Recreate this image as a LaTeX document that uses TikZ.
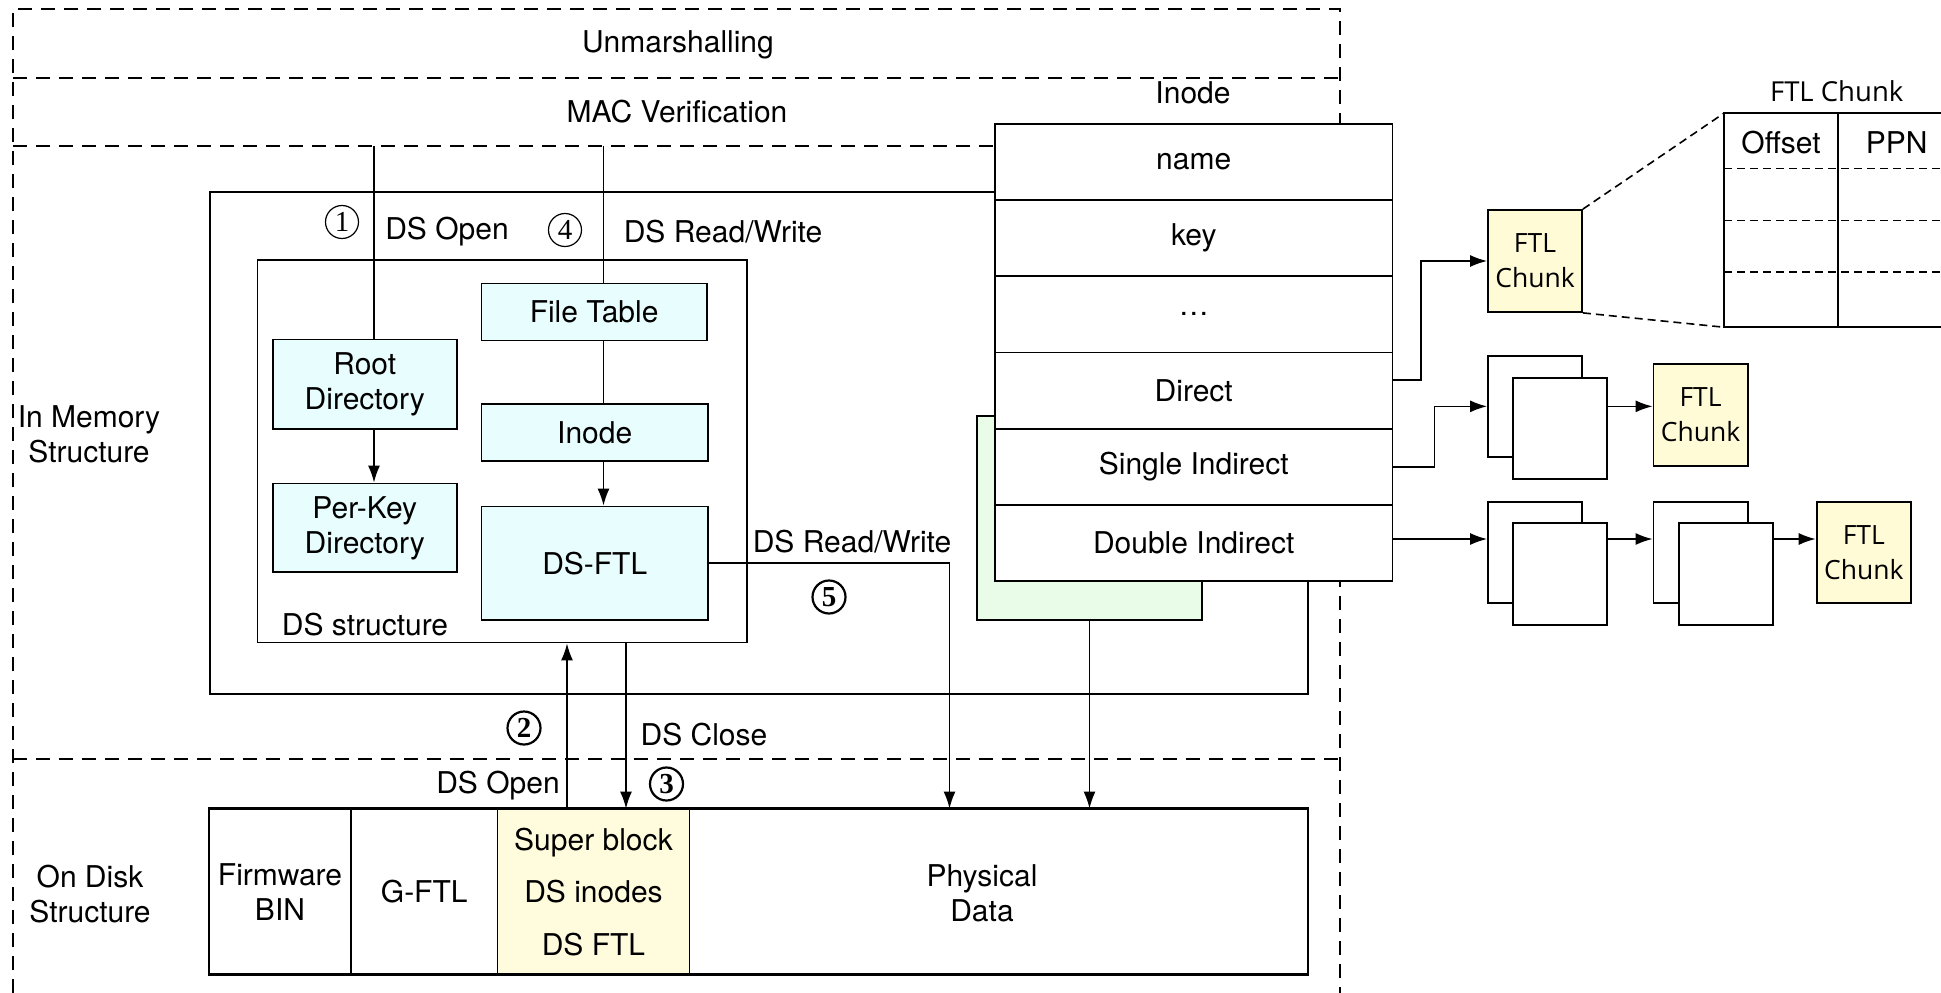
\documentclass[tikz,border=0pt]{standalone}
\usepackage[no-math]{fontspec}
\setmainfont{TeX Gyre Heros}
\newfontfamily\chunkfont{Open Sans}
\newfontfamily\numfont{Liberation Serif}
\usetikzlibrary{arrows.meta,calc}
\definecolor{dscyan}{RGB}{232,253,253}
\definecolor{inodegreen}{RGB}{232,252,232}
\definecolor{diskyellow}{RGB}{255,252,221}
\definecolor{chunkyellow}{RGB}{255,251,215}
\newcommand\mainsz{\fontsize{30}{35}\selectfont}

\begin{document}
\begin{tikzpicture}[x=1pt,y=-1pt,
  every node/.style={font=\mainsz,align=center,inner sep=0pt},
  sz/.style 2 args={minimum width=#1pt,minimum height=#2pt},
  box/.style={draw,line width=1.8pt},
  dsbox/.style={box,fill=dscyan},
  chunk/.style={box,fill=chunkyellow,font=\chunkfont\fontsize{26.5}{35}\selectfont},
  stk/.style={box,fill=white},
  frame/.style={line width=1.6pt,dash pattern=on 14pt off 9pt},
  smalldash/.style={line width=1.6pt,dash pattern=on 8pt off 5pt},
  wire/.style={line width=1.6pt},
  arrow/.style={wire,-{Latex[length=17pt,width=12pt]}},
  circnum/.style={circle,draw,line width=1.2pt,minimum size=33pt,
    font=\numfont\fontsize{29}{29}\selectfont},
  circnumb/.style={circnum,line width=2.2pt,
    font=\numfont\bfseries\fontsize{29}{29}\selectfont}]
\useasboundingbox (0,0) rectangle (1941,993);

% layered dashed frame
\draw[frame] (13,993) -- (13,9) -- (1340,9) -- (1340,993);
\draw[frame] (13,78) -- (1340,78);
\draw[frame] (13,146) -- (1340,146);
\draw[frame] (13,759) -- (1340,759);
\node (unm) at (678,45) {Unmarshalling};
\node (mac) at (677,112) {MAC Verification};
\node (inmem) at (89,434) {In Memory\\Structure};
\node (ondisk) at (90,894) {On Disk\\Structure};

% in-memory structure
\node[box,sz={1098}{502}] (mem) at (759,443) {};
\node[box,fill=inodegreen,sz={225}{204}] (green) at (1089.5,518) {};

% inode table
\node (inodelbl) at (1193,93) {Inode};
\node[stk,sz={397.5}{76.17}] (rname) at (1193.75,162.1) {name};
\node[stk,sz={397.5}{76.17}] (rkey) at (1193.75,238.3) {key};
\node[stk,sz={397.5}{76.17}] (rdots) at (1193.75,314.4) {…};
\node[stk,sz={397.5}{76.17}] (rdirect) at (1193.75,390.6) {Direct};
\node[stk,sz={397.5}{76.17}] (rsingle) at (1193.75,466.7) {Single Indirect};
\node[stk,sz={397.5}{76.17}] (rdouble) at (1193.75,542.9) {Double Indirect};

% DS structure
\node[box,sz={489.5}{382.5}] (ds) at (502.25,451.25) {};
\node (dslbl) at (365,625) {DS structure};
\node[dsbox,sz={183.6}{89.5}] (root) at (364.8,384.25) {Root\\Directory};
\node[dsbox,sz={183.6}{88.8}] (perkey) at (364.8,527.9) {Per-Key\\Directory};
\node[dsbox,sz={225.2}{57}] (ftab) at (594.1,311.9) {File Table};
\node[dsbox,sz={226.5}{57}] (inode) at (594.75,432.5) {Inode};
\node[dsbox,sz={226.5}{113.5}] (dsftl) at (594.75,563.25) {DS-FTL};

\coordinate (tap1) at (374,146);
\coordinate (tap4) at (603.5,146);
\draw[wire] (tap1) -- (tap1 |- root.north);
\draw[arrow] (tap1 |- root.south) -- (tap1 |- perkey.north);
\draw[wire] (tap4) -- (tap4 |- ftab.north);
\draw[wire] (tap4 |- ftab.south) -- (tap4 |- inode.north);
\draw[arrow] (tap4 |- inode.south) -- (tap4 |- dsftl.north);

% on-disk layout
\node[box,sz={142}{164.5}] (fw) at (280,891.75) {Firmware\\BIN};
\node[box,sz={146.5}{164.5}] (gftl) at (424.25,891.75) {G-FTL};
\node[box,fill=diskyellow,sz={192}{164.5},font=\fontsize{30}{52.5}\selectfont] (super) at (593.5,891.75) {Super block\\DS inodes\\DS FTL};
\node[box,sz={618.5}{164.5}] (phys) at (998.75,891.75) {};
\node (physlbl) at (982,893) {Physical\\Data};
\draw[line width=2.4pt] (fw.north west) -- (phys.north east);
\draw[line width=2.4pt] (fw.south west) -- (phys.south east);

% operations
\coordinate (up2) at (567,0);
\coordinate (dn3) at (626,0);
\coordinate (rw5) at (949.5,0);
\draw[arrow] (up2 |- super.north) -- (up2 |- ds.south);
\draw[arrow] (dn3 |- ds.south) -- (dn3 |- super.north);
\draw[arrow] (dsftl.east) -| (rw5 |- phys.north);
\draw[arrow] (green.south) -- (green.south |- phys.north);

\node[circnum] (n1) at (342,222) {1};
\node (lopen1) at (447,232) {DS Open};
\node[circnum] (n4) at (565,230) {4};
\node (lrw1) at (723,232) {DS Read/Write};
\node (lrw2) at (852,542) {DS Read/Write};
\node[circnumb] (n5) at (829,597) {5};
\node[circnumb] (n2) at (524,728) {2};
\node (lclose) at (704,735) {DS Close};
\node (lopen2) at (498,786) {DS Open};
\node[circnumb] (n3) at (666.5,784) {3};

% block pointers
\node[chunk,sz={94}{102}] (chunk1) at (1535,261) {FTL\\Chunk};
\node[stk,sz={94}{101.3}] (s1b) at (1535,406.35) {};
\node[stk,sz={94}{101}] (s1f) at (1560,428.5) {};
\node[chunk,sz={94.2}{102}] (chunk2) at (1700.6,414.7) {FTL\\Chunk};
\node[stk,sz={94}{101}] (s2b) at (1535,552.2) {};
\node[stk,sz={94}{102}] (s2f) at (1560,574.3) {};
\node[stk,sz={94.2}{101}] (s3b) at (1700.6,552.2) {};
\node[stk,sz={94}{102}] (s3f) at (1726,574.3) {};
\node[chunk,sz={94.4}{101.6}] (chunk3) at (1863.8,552.5) {FTL\\Chunk};

\draw[arrow] ([yshift=10.6pt]rdirect.east) -- ++(27.5,0) |- (chunk1.west);
\draw[arrow] (rsingle.east) -- ++(41,0) |- (s1b.west);
\draw[arrow] (s1f.east |- s1b.west) -- (chunk2.west |- s1b.west);
\draw[arrow] ([yshift=3.9pt]rdouble.east) coordinate (dd) -- (dd -| s2b.west);
\draw[arrow] (dd -| s2f.east) -- (dd -| s3b.west);
\draw[arrow] (dd -| s3f.east) -- (dd -| chunk3.west);

% FTL chunk layout
\node[sz={217}{213.5}] (tbl) at (1832.5,220.25) {};
\draw[line width=1.8pt] (tbl.north east) -- (tbl.north west) -- (tbl.south west) -- (tbl.south east);
\coordinate (tdiv) at (1838,0);
\draw[line width=1.6pt] (tdiv |- tbl.north) -- (tdiv |- tbl.south);
\draw[smalldash] (1724,168.5) -- (1941,168.5);
\draw[smalldash] (1724,220.5) -- (1941,220.5);
\draw[smalldash] (1724,272) -- (1941,272);
\node[font=\chunkfont\fontsize{27.5}{32}\selectfont] (tbltitle) at (1836.7,90.7) {FTL Chunk};
\node (offset) at (1781,142.7) {Offset};
\node (ppn) at (1896.7,142.7) {PPN};
\draw[smalldash] (chunk1.north east) -- (tbl.north west);
\draw[smalldash] (chunk1.south east) -- (tbl.south west);
\end{tikzpicture}
\end{document}
